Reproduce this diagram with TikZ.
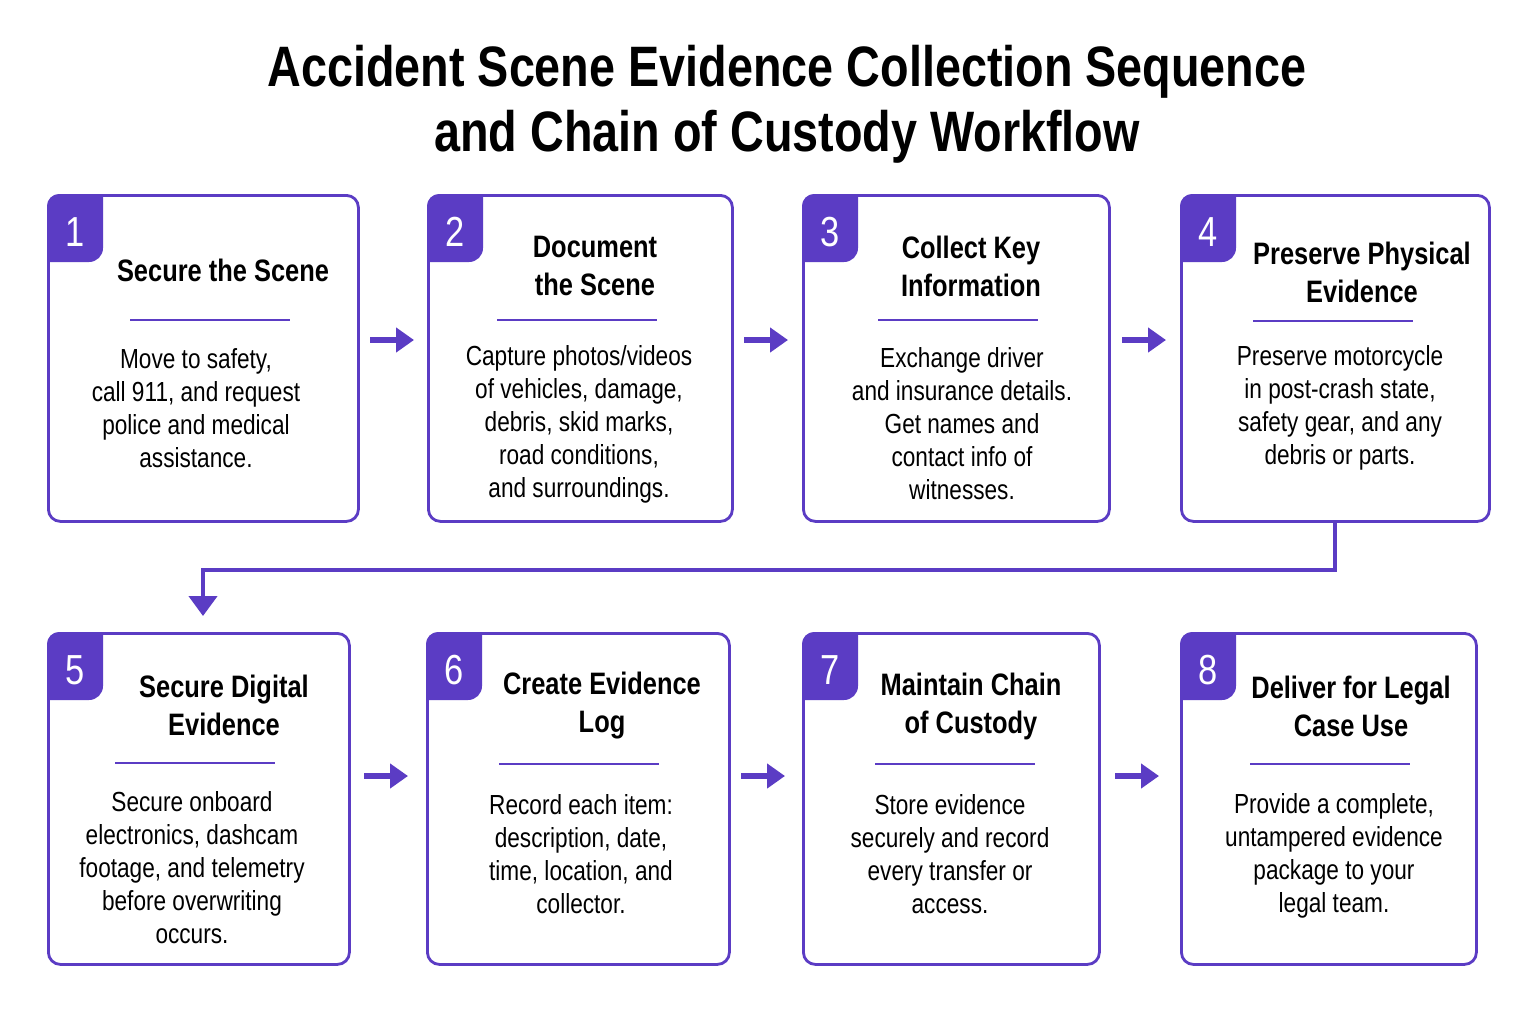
\documentclass[tikz,border=0pt]{standalone}
\usepackage{fontspec}
\setmainfont{Liberation Sans}[FakeStretch=0.82]
\usetikzlibrary{arrows.meta}
\definecolor{pur}{HTML}{5B3CC4}
\tikzset{
 box/.style={draw=pur,line width=1.4pt,rounded corners=6pt,fill=white},
 head/.style={font=\fontsize{15.5}{19}\selectfont\bfseries,align=center,inner sep=0},
 body/.style={font=\fontsize{13.8}{16.5}\selectfont,align=center,inner sep=0},
 num/.style={font=\fontsize{21}{22}\selectfont,text=white,inner sep=0},
 divl/.style={draw=pur,line width=1.4pt},
 arr/.style={draw=pur,line width=3pt,-{Triangle[length=9pt,width=12pt]}},
}
% #1 name #2 num #3 x1 #4 y1 #5 x2 #6 y2 #7 head x #8 head y #9 heading
\newcommand\mystep[9]{%
 \node[box,minimum width=(#5-#3)*0.5pt,minimum height=(#6-#4)*0.5pt,anchor=north west] (#1) at (#3,#4) {};
 \fill[pur] (#3,#4+68) [rounded corners=6pt]-- (#3,#4) [sharp corners]-- (#3+56,#4) [rounded corners=7pt]-- (#3+56,#4+68) [sharp corners]-- cycle;
 \node[num] (#1n) at (#3+28,#4+38) {#2};
 \node[head] (#1h) at (#7,#8) {#9};
}
\newcommand\mybody[6]{% name, div x, div y, body x, body y, text
 \draw[divl] (#2-80,#3) -- (#2+80,#3);
 \node[body] (#1b) at (#4,#5) {#6};
}
\begin{document}
\begin{tikzpicture}[x=0.5pt,y=-0.5pt]
\useasboundingbox (0,0) rectangle (1535,1012);
\node[font=\fontsize{28.5}{32.5}\selectfont\bfseries,align=center] (title) at (787,104) {Accident Scene Evidence Collection Sequence\\and Chain of Custody Workflow};

\mystep{s1}{1}{47}{194}{357}{520}{223}{270}{Secure the Scene}
\mybody{s1}{210}{320}{196}{408}{Move to safety,\\call 911, and request\\police and medical\\assistance.}
\mystep{s2}{2}{427}{194}{731}{520}{595}{266}{Document\\the Scene}
\mybody{s2}{577}{320}{579}{424}{Capture photos/videos\\of vehicles, damage,\\debris, skid marks,\\road conditions,\\and surroundings.}
\mystep{s3}{3}{802}{194}{1108}{520}{971}{266}{Collect Key\\Information}
\mybody{s3}{958}{320}{962}{424}{Exchange driver\\and insurance details.\\Get names and\\contact info of\\witnesses.}
\mystep{s4}{4}{1180}{194}{1488}{520}{1362}{272}{Preserve Physical\\Evidence}
\mybody{s4}{1333}{321}{1340}{408}{Preserve motorcycle\\in post-crash state,\\safety gear, and any\\debris or parts.}

\mystep{s5}{5}{47}{632}{348}{963}{224}{705}{Secure Digital\\Evidence}
\mybody{s5}{195}{763}{192}{868}{Secure onboard\\electronics, dashcam\\footage, and telemetry\\before overwriting\\occurs.}
\mystep{s6}{6}{426}{632}{728}{963}{602}{706}{Create Evidence\\Log}
\mybody{s6}{579}{764}{581}{854}{Record each item:\\description, date,\\time, location, and\\collector.}
\mystep{s7}{7}{802}{632}{1098}{963}{971}{706}{Maintain Chain\\of Custody}
\mybody{s7}{955}{764}{950}{854}{Store evidence\\securely and record\\every transfer or\\access.}
\mystep{s8}{8}{1180}{632}{1475}{963}{1351}{706}{Deliver for Legal\\Case Use}
\mybody{s8}{1330}{764}{1334}{856}{Provide a complete,\\untampered evidence\\package to your\\legal team.}

\draw[arr] (370,340) -- (414,340);
\draw[arr] (744,340) -- (788,340);
\draw[arr] (1122,340) -- (1166,340);
\draw[arr] (364,776) -- (408,776);
\draw[arr] (741,776) -- (785,776);
\draw[arr] (1115,776) -- (1159,776);

\coordinate (c1) at (1335,570);
\coordinate (c2) at (203,570);
\draw[draw=pur,line width=2.2pt,-{Triangle[length=10pt,width=14pt]}] (s4.south -| c1) -- (c1) -- (c2) -- (203,616);
\end{tikzpicture}
\end{document}
